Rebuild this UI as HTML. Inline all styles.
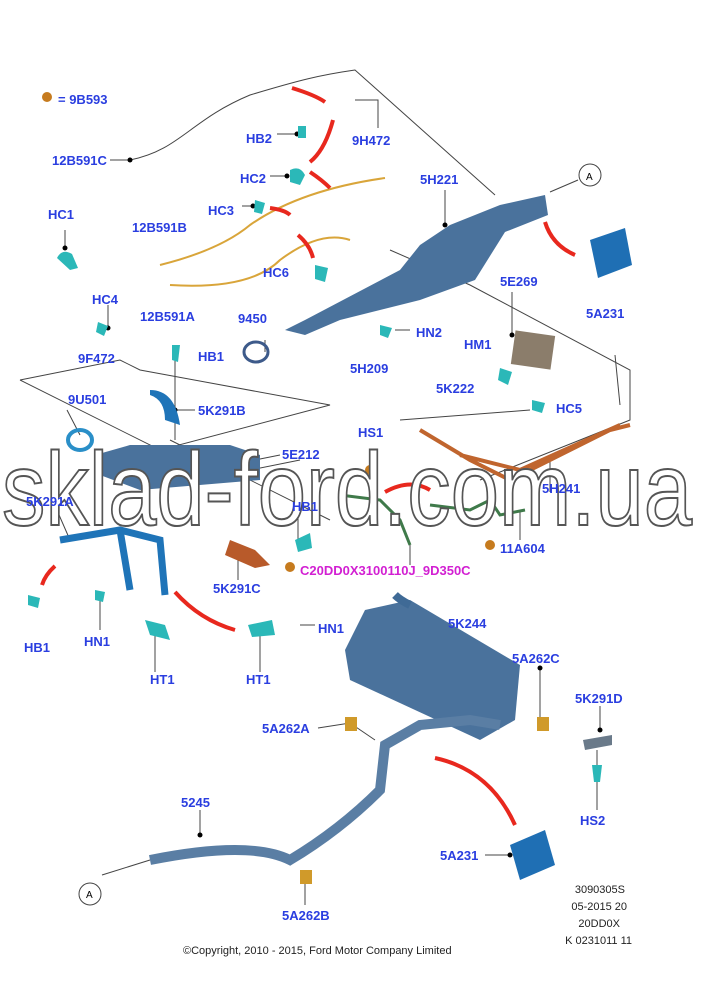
<!DOCTYPE html>
<html><head><meta charset="utf-8"><style>
body{margin:0;background:#fff;width:705px;height:1000px;overflow:hidden}
svg{display:block}
.l{font:bold 13px "Liberation Sans",sans-serif;fill:#2a3ee0}
.k{stroke:#444;stroke-width:1;fill:none}
.p{fill:#4a729c}
.d{fill:#000}
.c{fill:#2bb8b8}
</style></head><body>
<svg width="705" height="1000" viewBox="0 0 705 1000">
<g class="k">
<path d="M110 160 L130 160 C180 150 190 120 250 95 C300 80 320 75 355 70 L495 195"/>
<path d="M355 100 L378 100 L378 128"/>
<path d="M277 134 L297 134 M270 176 L287 176 M242 206 L253 206"/>
<path d="M578 180 L550 192"/>
<path d="M20 380 L120 360 L140 370 L330 405 L160 450 L20 380"/>
<path d="M390 250 L470 285 L630 370 L630 420 L480 480"/>
<path d="M400 420 L530 410"/>
<path d="M65 230 L65 248 M108 305 L108 328"/>
<path d="M102 875 L150 860"/>
<path d="M170 440 L330 520 M200 480 L300 460"/>
<path d="M445 190 L445 225 M512 292 L512 335 M550 460 L550 492 M520 512 L520 540"/>
<path d="M265 340 L265 352 M410 330 L395 330"/>
<path d="M175 355 L175 440 M172 410 L195 410"/>
<path d="M67 410 L80 435 M56 508 L70 540"/>
<path d="M255 460 L280 455 M298 515 L298 540"/>
<path d="M238 550 L238 580 M410 545 L410 565"/>
<path d="M100 595 L100 630 M260 630 L260 672 M155 630 L155 672 M300 625 L315 625"/>
<path d="M450 632 L450 660 M540 668 L540 718 M600 706 L600 730 M597 750 L597 810"/>
<path d="M318 728 L350 723 L375 740 M200 810 L200 835 M305 880 L305 905 M485 855 L510 855"/>
<path d="M615 355 L620 405"/>
</g>
<g class="d">
<circle cx="130" cy="160" r="2.5"/><circle cx="297" cy="134" r="2.5"/><circle cx="287" cy="176" r="2.5"/>
<circle cx="253" cy="206" r="2.5"/><circle cx="65" cy="248" r="2.5"/><circle cx="108" cy="328" r="2.5"/>
<circle cx="445" cy="225" r="2.5"/><circle cx="512" cy="335" r="2.5"/><circle cx="175" cy="410" r="2.5"/>
<circle cx="450" cy="660" r="2.5"/><circle cx="540" cy="668" r="2.5"/><circle cx="600" cy="730" r="2.5"/>
<circle cx="350" cy="723" r="2.5"/><circle cx="200" cy="835" r="2.5"/><circle cx="510" cy="855" r="2.5"/>
</g>
<g class="c">
<path d="M57 258 Q62 248 72 254 L78 268 L70 270 Z"/><path d="M298 126 L306 126 L306 138 L298 138Z"/>
<path d="M290 170 Q300 165 305 175 L300 185 L290 182 Z"/><path d="M255 200 L265 203 L262 214 L254 212Z"/>
<path d="M98 322 L108 326 L104 336 L96 332Z"/><path d="M315 265 L328 268 L325 282 L315 279Z"/>
<path d="M380 325 L392 328 L388 338 L380 335Z"/><path d="M500 368 L512 372 L508 385 L498 380Z"/>
<path d="M532 400 L545 403 L542 413 L532 410Z"/><path d="M172 345 L180 345 L178 362 L172 360Z"/>
<path d="M28 595 L40 598 L38 608 L28 605Z"/><path d="M95 590 L105 592 L103 602 L95 600Z"/>
<path d="M145 620 L165 625 L170 640 L150 635Z"/><path d="M248 625 L272 620 L275 635 L252 637Z"/>
<path d="M295 540 L310 533 L312 548 L298 552Z"/><path d="M592 765 L602 765 L600 782 L594 782Z"/>
</g>
<g>
<path class="p" d="M285 330 L305 320 L400 270 L420 245 L450 225 L500 205 L545 195 L548 215 L505 232 L475 280 L420 300 L340 320 L305 335 Z"/>
<path d="M590 240 L625 228 L632 265 L598 278 Z" fill="#1f6fb4"/>
<path class="p" d="M345 650 L365 610 L410 600 L520 665 L515 720 L480 740 L350 680 Z"/>
<path d="M395 595 Q400 600 410 605" stroke="#3f6a96" stroke-width="8" fill="none"/>
<path d="M150 860 Q250 840 290 860 Q340 830 380 790 L385 745 L420 725 L470 720 L500 725" stroke="#5a7ea4" stroke-width="10" fill="none"/>
<path d="M510 845 L545 830 L555 865 L520 880 Z" fill="#1f6fb4"/>
<path class="p" d="M95 455 L130 445 L230 445 L260 455 L260 480 L140 490 L100 475 Z"/>
<path d="M60 540 L120 530 L160 540 L165 595 M120 530 L130 590" stroke="#1f74b8" stroke-width="7" fill="none"/>
<path d="M230 540 L255 550 L270 565 L255 568 L225 555 Z" fill="#b85a2a"/>
<path d="M420 430 L470 460 L510 480 L610 430 L630 425 M460 455 L520 470 L620 425" stroke="#c0652e" stroke-width="4" fill="none"/>
<path d="M160 265 Q220 250 250 225 Q300 190 385 178 M170 285 Q250 290 280 260 Q320 230 350 240" stroke="#d9a53a" stroke-width="2" fill="none"/>
<path d="M340 495 L380 500 L400 520 L410 545 M430 505 L470 510 L490 500 L500 515 L525 510" stroke="#3f7a4a" stroke-width="3" fill="none"/>
<rect x="513" y="333" width="40" height="34" fill="#8b7d6b" transform="rotate(8 533 350)"/>
<path d="M150 390 Q175 390 180 425 L165 420 Q165 400 150 395 Z" fill="#1f74b8"/>
<ellipse cx="80" cy="440" rx="12" ry="10" fill="none" stroke="#2a8fc8" stroke-width="4"/>
<ellipse cx="256" cy="352" rx="12" ry="10" fill="none" stroke="#3d5a8a" stroke-width="3"/>
<rect x="345" y="717" width="12" height="14" fill="#d09a2a"/>
<rect x="537" y="717" width="12" height="14" fill="#d09a2a"/>
<rect x="300" y="870" width="12" height="14" fill="#d09a2a"/>
<path d="M583 740 L612 735 L612 745 L585 750 Z" fill="#6a7a8a"/>
</g>
<g fill="none" stroke="#e8281e" stroke-width="4">
<path d="M292 88 Q315 95 325 102"/><path d="M310 162 Q325 150 333 120"/>
<path d="M310 172 Q322 180 330 188"/><path d="M270 208 Q285 210 290 215"/>
<path d="M298 235 Q310 245 313 258"/><path d="M545 222 Q552 245 575 255"/>
<path d="M385 492 Q410 478 430 490"/><path d="M55 566 Q45 575 42 585"/>
<path d="M175 592 Q200 620 235 630"/><path d="M435 758 Q490 770 515 825"/>
</g>
<g>
<circle cx="47" cy="97" r="5" fill="#c67b1e"/><circle cx="370" cy="470" r="5" fill="#c67b1e"/>
<circle cx="490" cy="545" r="5" fill="#c67b1e"/><circle cx="290" cy="567" r="5" fill="#c67b1e"/>
</g>
<circle cx="590" cy="175" r="11" fill="#fff" stroke="#444"/>
<text x="586" y="180" font-family="Liberation Sans" font-size="10">A</text>
<circle cx="90" cy="894" r="11" fill="#fff" stroke="#444"/>
<text x="86" y="898" font-family="Liberation Sans" font-size="10">A</text>
<text x="2" y="525" font-family="Liberation Sans,sans-serif" font-size="104" fill="#fff" stroke="#555" stroke-width="2" textLength="690" lengthAdjust="spacingAndGlyphs">sklad-ford.com.ua</text>
<g class="l">
<text x="58" y="104">= 9B593</text>
<text x="352" y="145">9H472</text><text x="246" y="143">HB2</text>
<text x="52" y="165">12B591C</text><text x="240" y="183">HC2</text>
<text x="420" y="184">5H221</text><text x="48" y="219">HC1</text>
<text x="208" y="215">HC3</text><text x="132" y="232">12B591B</text>
<text x="263" y="277">HC6</text><text x="92" y="304">HC4</text>
<text x="140" y="321">12B591A</text><text x="500" y="286">5E269</text>
<text x="586" y="318">5A231</text><text x="238" y="323">9450</text>
<text x="416" y="337">HN2</text><text x="464" y="349">HM1</text>
<text x="198" y="361">HB1</text><text x="78" y="363">9F472</text>
<text x="350" y="373">5H209</text><text x="68" y="404">9U501</text>
<text x="436" y="393">5K222</text><text x="198" y="415">5K291B</text>
<text x="556" y="413">HC5</text><text x="358" y="437">HS1</text>
<text x="282" y="459">5E212</text><text x="542" y="493">5H241</text>
<text x="26" y="506">5K291A</text><text x="292" y="511">HB1</text>
<text x="500" y="553">11A604</text><text x="213" y="593">5K291C</text>
<text x="300" y="575" style="fill:#d21fd2">C20DD0X3100110J_9D350C</text>
<text x="24" y="652">HB1</text><text x="84" y="646">HN1</text>
<text x="318" y="633">HN1</text><text x="150" y="684">HT1</text>
<text x="246" y="684">HT1</text><text x="448" y="628">5K244</text>
<text x="512" y="663">5A262C</text><text x="575" y="703">5K291D</text>
<text x="262" y="733">5A262A</text><text x="181" y="807">5245</text>
<text x="580" y="825">HS2</text><text x="440" y="860">5A231</text>
<text x="282" y="920">5A262B</text>
</g>
<g font-family="Liberation Sans,sans-serif" font-size="11" fill="#222" text-anchor="end">
<text x="625" y="893">3090305S</text><text x="627" y="910">05-2015 20</text>
<text x="620" y="927">20DD0X</text><text x="632" y="944">K 0231011 11</text>
</g>
<text x="183" y="954" font-family="Liberation Sans,sans-serif" font-size="11" fill="#222">©Copyright, 2010 - 2015, Ford Motor Company Limited</text>
</svg>
</body></html>
